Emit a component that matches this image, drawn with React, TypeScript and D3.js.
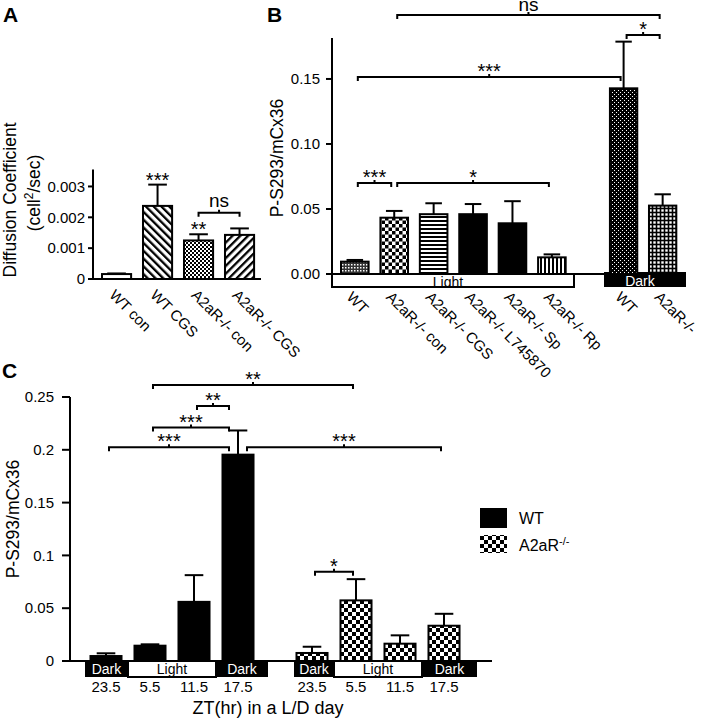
import React from "react";
import * as d3 from "d3";

const W = 701;
const H = 719;
const FONT = "'Liberation Sans', Arial, Helvetica, sans-serif";

// ---------- Panel A data ----------
const aCategories = ["WT con", "WT CGS", "A2aR-/- con", "A2aR-/- CGS"];
const aMeans = [0.00016, 0.00237, 0.00125, 0.00143];
const aSems = [0.00002, 0.00069, 0.0002, 0.00021];
const aTicks = [0, 0.001, 0.002, 0.003];
const aTickLabels = ["0", "0.001", "0.002", "0.003"];
const aStars = ["", "***", "**", ""];
const aBrackets = [{ from: 2, to: 3, level: 0.00215, label: "ns" }];

// ---------- Panel B data ----------
const bLightCategories = ["WT", "A2aR-/- con", "A2aR-/- CGS", "A2aR-/- L745870", "A2aR-/- Sp", "A2aR-/- Rp"];
const bLightMeans = [0.0095, 0.0433, 0.046, 0.046, 0.039, 0.0128];
const bLightSems = [0.0013, 0.0052, 0.0084, 0.0078, 0.017, 0.0023];
const bDarkCategories = ["WT", "A2aR-/-"];
const bDarkMeans = [0.1428, 0.0526];
const bDarkSems = [0.0359, 0.0087];
const bTicks = [0, 0.05, 0.1, 0.15];
const bTickLabels = ["0.00", "0.05", "0.10", "0.15"];
// indices 0-5 = light bars, 6-7 = dark bars
const bBrackets = [
  { from: 1, to: 7, level: 0.1992, label: "ns" },
  { from: 6, to: 7, level: 0.1838, label: "*" },
  { from: 0, to: 6, level: 0.1515, label: "***" },
  { from: 0, to: 1, level: 0.07, label: "***" },
  { from: 1, to: 5, level: 0.07, label: "*" },
];

// ---------- Panel C data ----------
const cTimes = ["23.5", "5.5", "11.5", "17.5"];
const cPhases = ["Dark", "Light", "Light", "Dark"];
const cWtMeans = [0.0047, 0.0145, 0.056, 0.1954];
const cWtSems = [0.0026, 0.0013, 0.0253, 0.0229];
const cKoMeans = [0.0076, 0.0574, 0.0164, 0.0334];
const cKoSems = [0.0059, 0.0201, 0.0079, 0.0113];
const cTicks = [0, 0.05, 0.1, 0.15, 0.2, 0.25];
const cTickLabels = ["0", "0.05", "0.1", "0.15", "0.2", "0.25"];
// indices 0-3 = WT, 4-7 = A2aR-/-
const cBrackets = [
  { from: 1, to: 5, level: 0.2614, label: "**" },
  { from: 2, to: 3, level: 0.2415, label: "**" },
  { from: 1, to: 3, level: 0.221, label: "***" },
  { from: 0, to: 3, level: 0.2024, label: "***" },
  { from: 3, to: 7, level: 0.2024, label: "***" },
  { from: 4, to: 5, level: 0.0846, label: "*" },
];
const cLegend = ["WT", "A2aR"];

// ---------- styles ----------
const aFills = ["#ffffff", "url(#hatchBack)", "url(#checkFine)", "url(#hatchFwd)"];
const bLightFills = ["url(#dotsGray)", "url(#checkMed)", "url(#hLines)", "#000", "#000", "url(#vLines)"];
const bDarkFills = ["url(#darkDots)", "url(#grid)"];
const cFills = ["#000", "url(#checkLarge)"];

function Patterns() {
  return (
    <defs>
      <pattern id="hatchBack" width="5.5" height="5.5" patternUnits="userSpaceOnUse" patternTransform="rotate(-45)">
        <rect width="5.5" height="5.5" fill="#fff" />
        <rect width="2.3" height="5.5" fill="#000" />
      </pattern>
      <pattern id="hatchFwd" width="5.5" height="5.5" patternUnits="userSpaceOnUse" patternTransform="rotate(45)">
        <rect width="5.5" height="5.5" fill="#fff" />
        <rect width="2.3" height="5.5" fill="#000" />
      </pattern>
      <pattern id="checkFine" width="4" height="4" patternUnits="userSpaceOnUse">
        <rect width="4" height="4" fill="#fff" />
        <rect width="2" height="2" fill="#000" />
        <rect x="2" y="2" width="2" height="2" fill="#000" />
      </pattern>
      <pattern id="checkMed" width="7" height="7" patternUnits="userSpaceOnUse">
        <rect width="7" height="7" fill="#fff" />
        <rect width="3.5" height="3.5" fill="#000" />
        <rect x="3.5" y="3.5" width="3.5" height="3.5" fill="#000" />
      </pattern>
      <pattern id="checkLarge" width="8" height="8" patternUnits="userSpaceOnUse">
        <rect width="8" height="8" fill="#fff" />
        <rect width="4" height="4" fill="#000" />
        <rect x="4" y="4" width="4" height="4" fill="#000" />
      </pattern>
      <pattern id="dotsGray" width="3" height="3" patternUnits="userSpaceOnUse">
        <rect width="3" height="3" fill="#333" />
        <rect width="1.5" height="1.5" fill="#fff" />
      </pattern>
      <pattern id="hLines" width="4" height="4" patternUnits="userSpaceOnUse">
        <rect width="4" height="4" fill="#fff" />
        <rect width="4" height="2" fill="#000" />
      </pattern>
      <pattern id="vLines" width="4" height="4" patternUnits="userSpaceOnUse">
        <rect width="4" height="4" fill="#fff" />
        <rect width="2" height="4" fill="#000" />
      </pattern>
      <pattern id="darkDots" width="4" height="4" patternUnits="userSpaceOnUse">
        <rect width="4" height="4" fill="#000" />
        <rect x="0" y="0" width="1" height="1" fill="#fff" />
        <rect x="2" y="2" width="1" height="1" fill="#fff" />
      </pattern>
      <pattern id="grid" width="4" height="4" patternUnits="userSpaceOnUse">
        <rect width="4" height="4" fill="#000" />
        <rect x="1.3" y="1.3" width="2.4" height="2.4" fill="#fff" />
      </pattern>
    </defs>
  );
}

function ErrorBar({ x, y0, y1, half }: { x: number; y0: number; y1: number; half: number }) {
  return (
    <g stroke="#000" strokeWidth={2}>
      <line x1={x} x2={x} y1={y0} y2={y1} />
      <line x1={x - half} x2={x + half} y1={y1} y2={y1} />
    </g>
  );
}

function Bracket({ x1, x2, y, label }: { x1: number; x2: number; y: number; label: string }) {
  const xm = (x1 + x2) / 2;
  const isNs = label === "ns";
  const ty = isNs ? Math.max(y - 6, 11) : y + 1;
  return (
    <g>
      <path
        d={`M${x1},${y + 4}V${y}H${x2}V${y + 4}M${xm},${y}V${y - 3}`}
        fill="none"
        stroke="#000"
        strokeWidth={2}
      />
      <text x={xm} y={ty} textAnchor="middle" fontSize={isNs ? 19 : 20}>
        {label}
      </text>
    </g>
  );
}

export default function App() {
  // ----- Panel A scales -----
  const ax = d3.scaleBand<string>().domain(aCategories).range([93, 261]).paddingInner(0.29).paddingOuter(0.194).align(0.566);
  const ay = d3.scaleLinear().domain([0, 0.00355]).range([279, 169.5]);
  const aCx = (i: number) => (ax(aCategories[i]) as number) + ax.bandwidth() / 2;

  // ----- Panel B scales -----
  const by = d3.scaleLinear().domain([0, 0.1815]).range([274, 38]);
  const bxL = d3.scaleBand<string>().domain(bLightCategories).range([332, 574]).paddingInner(0.3).paddingOuter(0.22).align(0.52);
  const bxD = d3.scaleBand<string>().domain(bDarkCategories).range([604, 686]).paddingInner(0.3).paddingOuter(0.2).align(0.38);
  const bCx = (i: number) =>
    i < 6
      ? (bxL(bLightCategories[i]) as number) + bxL.bandwidth() / 2
      : (bxD(bDarkCategories[i - 6]) as number) + bxD.bandwidth() / 2;

  // ----- Panel C scales -----
  const cy = d3.scaleLinear().domain([0, 0.25]).range([661, 397]);
  const cx1 = d3.scaleBand<string>().domain(cTimes).range([85, 268]).paddingInner(0.295).paddingOuter(0.227).align(0.275);
  const cx2 = d3.scaleBand<string>().domain(cTimes).range([294, 477]).paddingInner(0.295).paddingOuter(0.227).align(0.125);
  const cGroups = [
    { scale: cx1, means: cWtMeans, sems: cWtSems, fill: cFills[0] },
    { scale: cx2, means: cKoMeans, sems: cKoSems, fill: cFills[1] },
  ];
  const cCx = (i: number) => {
    const s = i < 4 ? cx1 : cx2;
    return (s(cTimes[i % 4]) as number) + s.bandwidth() / 2;
  };
  const cInset = (i: number) => (i === 3 ? 9 : 3);

  const phaseSegments = (s: d3.ScaleBand<string>) => {
    const r = s.range();
    const gap = s.step() * s.paddingInner();
    const segs: { phase: string; x0: number; x1: number }[] = [];
    cPhases.forEach((p, i) => {
      const left = i === 0 ? r[0] : (s(cTimes[i]) as number) - gap / 2;
      const right = i === cPhases.length - 1 ? r[1] : (s(cTimes[i]) as number) + s.bandwidth() + gap / 2;
      const last = segs[segs.length - 1];
      if (last && last.phase === p) last.x1 = right;
      else segs.push({ phase: p, x0: left, x1: right });
    });
    return segs;
  };

  return (
    <svg
      width={W}
      height={H}
      viewBox={`0 0 ${W} ${H}`}
      style={{ position: "absolute", left: 0, top: 0, background: "#fff" }}
      fontFamily={FONT}
      fill="#000"
    >
      <Patterns />
      <clipPath id="lightClipB">
        <rect x={332} y={274} width={242} height={13} />
      </clipPath>
      <rect width={W} height={H} fill="#fff" />

      {/* ================= Panel A ================= */}
      <text x={3} y={22} fontSize={21} fontWeight="bold">A</text>
      <text transform={`translate(16,200) rotate(-90)`} textAnchor="middle" fontSize={17.5}>
        Diffusion Coefficient
      </text>
      <text transform={`translate(40,193) rotate(-90)`} textAnchor="middle" fontSize={17.5}>
        (cell<tspan baselineShift="super" fontSize={12}>2</tspan>/sec)
      </text>
      {aTicks.map((t, i) => (
        <g key={i}>
          <line x1={88} x2={93} y1={ay(t)} y2={ay(t)} stroke="#000" strokeWidth={2} />
          <text x={85} y={ay(t)} dy="0.35em" textAnchor="end" fontSize={15}>{aTickLabels[i]}</text>
        </g>
      ))}
      {aCategories.map((c, i) => {
        const x = ax(c) as number;
        const bw = ax.bandwidth();
        return (
          <g key={c}>
            <rect x={x} y={ay(aMeans[i])} width={bw} height={ay(0) - ay(aMeans[i])} fill={aFills[i]} stroke="#000" strokeWidth={2} />
            <ErrorBar x={x + bw / 2} y0={ay(aMeans[i])} y1={ay(aMeans[i] + aSems[i])} half={bw * 0.32} />
            {aStars[i] && (
              <text x={x + bw / 2} y={ay(aMeans[i] + aSems[i]) + 2} textAnchor="middle" fontSize={20}>{aStars[i]}</text>
            )}
            <text transform={`translate(${x + bw / 2 - 8},296) rotate(45)`} fontSize={15}>{c}</text>
          </g>
        );
      })}
      {aBrackets.map((b, i) => (
        <Bracket key={i} x1={aCx(b.from)} x2={aCx(b.to)} y={ay(b.level)} label={b.label} />
      ))}
      <line x1={93} x2={93} y1={ay.range()[1]} y2={ay(0)} stroke="#000" strokeWidth={2} />
      <line x1={92} x2={261} y1={ay(0)} y2={ay(0)} stroke="#000" strokeWidth={2} />

      {/* ================= Panel B ================= */}
      <text x={267} y={22} fontSize={21} fontWeight="bold">B</text>
      <text transform={`translate(283,158) rotate(-90)`} textAnchor="middle" fontSize={17.5}>
        P-S293/mCx36
      </text>
      {bTicks.map((t, i) => (
        <g key={i}>
          <line x1={326} x2={332} y1={by(t)} y2={by(t)} stroke="#000" strokeWidth={2} />
          <text x={320} y={by(t)} dy="0.35em" textAnchor="end" fontSize={15}>{bTickLabels[i]}</text>
        </g>
      ))}
      {/* Light / Dark boxes */}
      <rect x={bxL.range()[0]} y={274} width={bxL.range()[1] - bxL.range()[0]} height={13} fill="#fff" />
      <text x={(bxL.range()[0] + bxL.range()[1]) / 2 - 5} y={287} textAnchor="middle" fontSize={14} clipPath="url(#lightClipB)">Light</text>
      <rect x={bxL.range()[0]} y={274} width={bxL.range()[1] - bxL.range()[0]} height={13} fill="none" stroke="#000" strokeWidth={2} />
      <rect x={bxD.range()[0]} y={272} width={bxD.range()[1] - bxD.range()[0]} height={15} fill="#000" />
      <text x={(bxD.range()[0] + bxD.range()[1]) / 2 - 5} y={286} textAnchor="middle" fontSize={14} fill="#fff">Dark</text>

      {bLightCategories.map((c, i) => {
        const x = bxL(c) as number;
        const bw = bxL.bandwidth();
        return (
          <g key={"bl" + i}>
            <rect x={x} y={by(bLightMeans[i])} width={bw} height={by(0) - by(bLightMeans[i])} fill={bLightFills[i]} stroke="#000" strokeWidth={2} />
            <ErrorBar x={x + bw / 2} y0={by(bLightMeans[i])} y1={by(bLightMeans[i] + bLightSems[i])} half={bw * 0.3} />
            <text transform={`translate(${x + bw / 2 - 9},298) rotate(45)`} fontSize={15}>{c}</text>
          </g>
        );
      })}
      {bDarkCategories.map((c, i) => {
        const x = bxD(c) as number;
        const bw = bxD.bandwidth();
        return (
          <g key={"bd" + i}>
            <rect x={x} y={by(bDarkMeans[i])} width={bw} height={by(0) - by(bDarkMeans[i])} fill={bDarkFills[i]} stroke="#000" strokeWidth={2} />
            <ErrorBar x={x + bw / 2} y0={by(bDarkMeans[i])} y1={by(bDarkMeans[i] + bDarkSems[i])} half={bw * 0.3} />
            <text transform={`translate(${x + bw / 2 - 9},298) rotate(45)`} fontSize={15}>{c}</text>
          </g>
        );
      })}
      {bBrackets.map((b, i) => (
        <Bracket key={i} x1={bCx(b.from) + 3} x2={bCx(b.to) - 3} y={by(b.level)} label={b.label} />
      ))}
      <line x1={332} x2={332} y1={by.range()[1]} y2={287} stroke="#000" strokeWidth={2} />
      <line x1={331} x2={bxD.range()[1]} y1={by(0)} y2={by(0)} stroke="#000" strokeWidth={2} />

      {/* ================= Panel C ================= */}
      <text x={2} y={378} fontSize={21} fontWeight="bold">C</text>
      <text transform={`translate(19,519) rotate(-90)`} textAnchor="middle" fontSize={17.5}>
        P-S293/mCx36
      </text>
      {cTicks.map((t, i) => (
        <g key={i}>
          <line x1={62} x2={70} y1={cy(t)} y2={cy(t)} stroke="#000" strokeWidth={2} />
          <text x={54} y={cy(t)} dy="0.35em" textAnchor="end" fontSize={15}>{cTickLabels[i]}</text>
        </g>
      ))}
      {cGroups.map((g, gi) => (
        <g key={"cg" + gi}>
          {phaseSegments(g.scale).map((s, si) => (
            <g key={si}>
              <rect
                x={s.x0}
                y={661}
                width={s.x1 - s.x0}
                height={16}
                fill={s.phase === "Dark" ? "#000" : "#fff"}
                stroke="#000"
                strokeWidth={s.phase === "Dark" ? 0 : 2}
              />
              <text x={(s.x0 + s.x1) / 2} y={674} textAnchor="middle" fontSize={14} fill={s.phase === "Dark" ? "#fff" : "#000"}>
                {s.phase}
              </text>
            </g>
          ))}
          {cTimes.map((t, i) => {
            const x = g.scale(t) as number;
            const bw = g.scale.bandwidth();
            return (
              <g key={t}>
                <rect x={x} y={cy(g.means[i])} width={bw} height={cy(0) - cy(g.means[i])} fill={g.fill} stroke="#000" strokeWidth={2} />
                <ErrorBar x={x + bw / 2} y0={cy(g.means[i])} y1={cy(g.means[i] + g.sems[i])} half={bw * 0.3} />
                <text x={x + bw / 2} y={692} textAnchor="middle" fontSize={15}>{t}</text>
              </g>
            );
          })}
        </g>
      ))}
      {cBrackets.map((b, i) => (
        <Bracket key={i} x1={cCx(b.from) + cInset(b.from)} x2={cCx(b.to) - cInset(b.to)} y={cy(b.level)} label={b.label} />
      ))}
      <line x1={70} x2={70} y1={cy.range()[1]} y2={cy(0)} stroke="#000" strokeWidth={2} />
      <line x1={69} x2={492} y1={cy(0)} y2={cy(0)} stroke="#000" strokeWidth={2} />
      <text x={268} y={714} textAnchor="middle" fontSize={18}>ZT(hr) in a L/D day</text>

      {/* legend */}
      <rect x={480} y={508} width={27} height={20} fill={cFills[0]} />
      <text x={519} y={518} dy="0.35em" fontSize={16}>{cLegend[0]}</text>
      <rect x={480} y={535} width={27} height={18} fill={cFills[1]} />
      <text x={519} y={545} dy="0.35em" fontSize={16}>
        {cLegend[1]}
        <tspan baselineShift="super" fontSize={11}>-/-</tspan>
      </text>
    </svg>
  );
}
